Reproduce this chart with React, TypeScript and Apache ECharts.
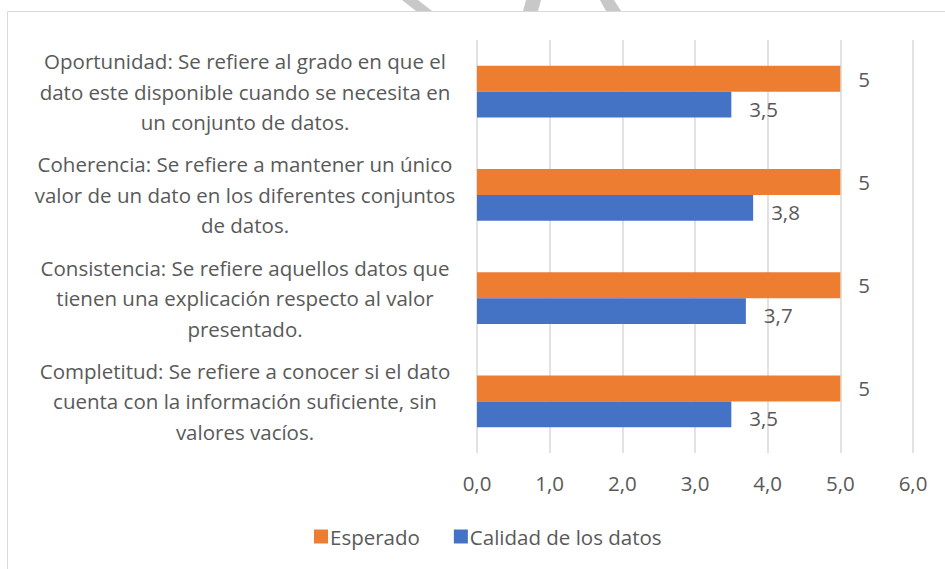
import React, { useEffect, useRef } from "react";
import * as echarts from "echarts";

const categories = [
  "Oportunidad: Se refiere al grado en que el\ndato este disponible cuando se necesita en\nun conjunto de datos.",
  "Coherencia: Se refiere a mantener un único\nvalor de un dato en los diferentes conjuntos\nde datos.",
  "Consistencia: Se refiere aquellos datos que\ntienen una explicación respecto al valor\npresentado.",
  "Completitud: Se refiere a conocer si el dato\ncuenta con la información suficiente, sin\nvalores vacíos.",
];
const esperado = [5, 5, 5, 5];
const calidad = [3.5, 3.8, 3.7, 3.5];
const seriesNames = ["Esperado", "Calidad de los datos"];

const FONT = "'Open Sans', 'Noto Sans', sans-serif";
const TXT = "#595959";
const FS = 20.5;

export default function App() {
  const ref = useRef<HTMLDivElement>(null);
  useEffect(() => {
    if (!ref.current) return;
    const chart = echarts.init(ref.current, null, { renderer: "svg" });
    const fmt = (v: number) => String(v).replace(".", ",");
    chart.setOption({
      animation: false,
      textStyle: { fontFamily: FONT },
      graphic: [
        {
          type: "rect",
          shape: { x: 7.5, y: 11.5, width: 960, height: 600 },
          style: { fill: "none", stroke: "#d9d9d9", lineWidth: 1 },
          silent: true,
        },
        {
          type: "polygon",
          shape: { points: [[402, 0], [418, 0], [432, 11], [416, 11]] },
          style: { fill: "#c8c8c8" },
          silent: true,
        },
        {
          type: "polygon",
          shape: { points: [[526, 0], [541, 0], [538, 11], [523, 11]] },
          style: { fill: "#c8c8c8" },
          silent: true,
        },
        {
          type: "polygon",
          shape: { points: [[600, 0], [614, 0], [621, 11], [606, 11]] },
          style: { fill: "#c8c8c8" },
          silent: true,
        },
      ],
      legend: {
        bottom: 17,
        left: 309,
        itemWidth: 14,
        itemHeight: 14,
        itemGap: 34,
        icon: "rect",
        textStyle: { fontSize: FS, color: TXT, fontFamily: FONT, padding: [0, 0, 0, -3] },
        data: seriesNames,
      },
      grid: { left: 477, right: 32, top: 40, bottom: 116, containLabel: false },
      xAxis: {
        type: "value",
        min: 0,
        max: 6,
        interval: 1,
        axisLine: { show: false },
        axisTick: { show: false },
        splitLine: { show: true, lineStyle: { color: "#d9d9d9", width: 1.5 } },
        axisLabel: {
          color: TXT,
          fontSize: FS,
          fontFamily: FONT,
          margin: 19,
          formatter: (v: number) => v.toFixed(1).replace(".", ","),
        },
      },
      yAxis: {
        type: "category",
        inverse: true,
        data: categories,
        axisLine: { show: false },
        axisTick: { show: false },
        axisLabel: {
          color: TXT,
          fontSize: FS,
          fontFamily: FONT,
          align: "center",
          margin: 232,
          lineHeight: 30.5,
        },
      },
      series: [
        {
          name: seriesNames[0],
          type: "bar",
          data: esperado,
          barGap: "0%",
          barCategoryGap: "50%",
          itemStyle: { color: "#ED7D31" },
          label: {
            show: true,
            position: "right",
            distance: 18,
            color: TXT,
            fontSize: FS,
            fontFamily: FONT,
            formatter: (p: any) => fmt(p.value),
          },
        },
        {
          name: seriesNames[1],
          type: "bar",
          data: calidad,
          barGap: "0%",
          barCategoryGap: "50%",
          itemStyle: { color: "#4472C4" },
          label: {
            show: true,
            position: "right",
            distance: 18,
            color: TXT,
            fontSize: FS,
            fontFamily: FONT,
            offset: [0, 4],
            formatter: (p: any) => fmt(p.value),
          },
        },
      ],
    });
    return () => chart.dispose();
  }, []);
  return <div ref={ref} style={{ width: 945, height: 569, position: "absolute", left: 0, top: 0 }} />;
}
